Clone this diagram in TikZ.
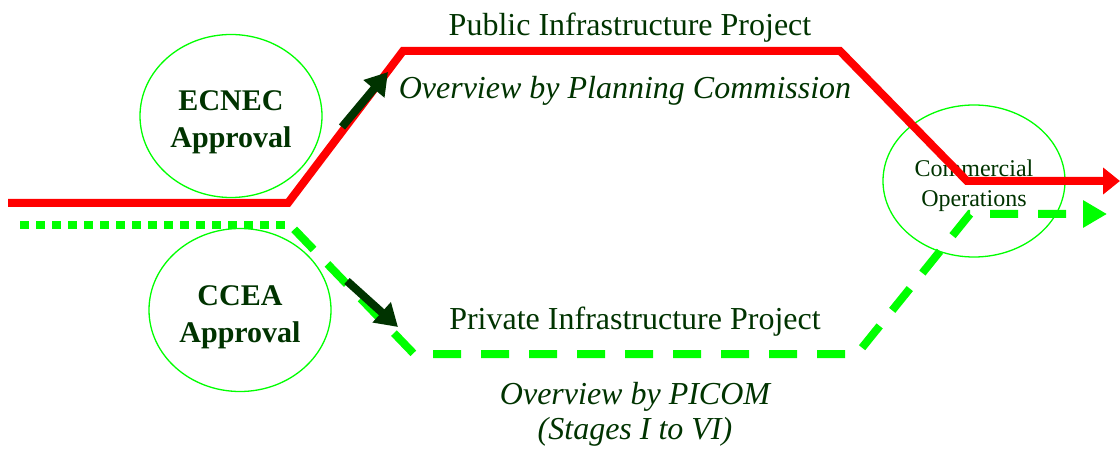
\documentclass[tikz,border=0pt]{standalone}
\usepackage{fontspec}
\setmainfont{Liberation Serif}
\usetikzlibrary{arrows.meta,shapes.geometric}
\definecolor{deepgreen}{RGB}{0,51,0}
\definecolor{limegreen}{RGB}{0,255,0}

\begin{document}
\begin{tikzpicture}[x=1pt,y=-1pt,
    approval node/.style={ellipse,draw=limegreen,line width=1.3pt,inner sep=0pt,
                          minimum width=182pt,minimum height=163pt},
    approval text/.style={text=deepgreen,align=center,inner sep=0pt,
                          font=\fontsize{30}{37}\selectfont\bfseries},
    title node/.style={text=deepgreen,font=\fontsize{32}{36}\selectfont},
    overview node/.style={text=deepgreen,align=center,font=\fontsize{32}{35}\selectfont\itshape},
    public line/.style={draw=red,line width=8pt},
    private line/.style={draw=limegreen,line width=8pt,dash pattern=on 28pt off 20pt},
    push arrow/.style={draw=deepgreen,line width=8pt,-{Triangle[length=22pt,width=26pt]}}]
  \useasboundingbox (0,0) rectangle (1120,449);

  % turning points of the two routes
  \coordinate (public start) at (8,203);
  \coordinate (public rise) at (288,203);
  \coordinate (public top left) at (403,51);
  \coordinate (public top right) at (840,51);
  \coordinate (public fall) at (967,181);
  \coordinate (public end) at (1120,181);
  \coordinate (private start) at (20,225);
  \coordinate (private drop) at (290,225);
  \coordinate (private low left) at (414,354);
  \coordinate (private low right) at (857,354);
  \coordinate (private rise) at (970,214);
  \coordinate (private end) at (1107,214);
  \coordinate (ecnec tail) at (342,127);
  \coordinate (ecnec tip) at (388,72);
  \coordinate (ccea tail) at (347,281);
  \coordinate (ccea tip) at (398,327);

  \node[approval node] (ecnec) at (231,116) {};
  \node[approval node] (ccea) at (240,310) {};
  \node[approval node,minimum height=152pt] (commercial) at (974,181) {};
  \node[approval text] (ecnec text) at ([yshift=-6pt]ecnec.center) {ECNEC\\Approval};
  \node[approval text] (ccea text) at ([yshift=-7pt]ccea.center) {CCEA\\Approval};
  \node[approval text,font=\fontsize{24}{30}\selectfont] (commercial text)
       at ([yshift=-5pt]commercial.center) {Commercial\\Operations};

  \draw[public line,-{Triangle[length=17pt,width=26pt]}] (public start) -- (public rise)
       -- (public top left) -- (public top right) -- (public fall) -- (public end);
  \draw[private line,dash pattern=on 9pt off 7pt] (private start) -- (private drop);
  \draw[private line,dash phase=-6pt,-{Triangle[length=24pt,width=26pt]}] (private drop)
       -- (private low left) -- (private low right) -- (private rise) -- (private end);
  \draw[push arrow] (ecnec tail) -- (ecnec tip);
  \draw[push arrow] (ccea tail) -- (ccea tip);

  \node[title node] (public title) at (630,28) {Public Infrastructure Project};
  \node[overview node] (public overview) at (625,91) {Overview by Planning Commission};
  \node[title node] (private title) at (635,322) {Private Infrastructure Project};
  \node[overview node] (private overview) at (635,414) {Overview by PICOM\\(Stages I to VI)};
\end{tikzpicture}
\end{document}
